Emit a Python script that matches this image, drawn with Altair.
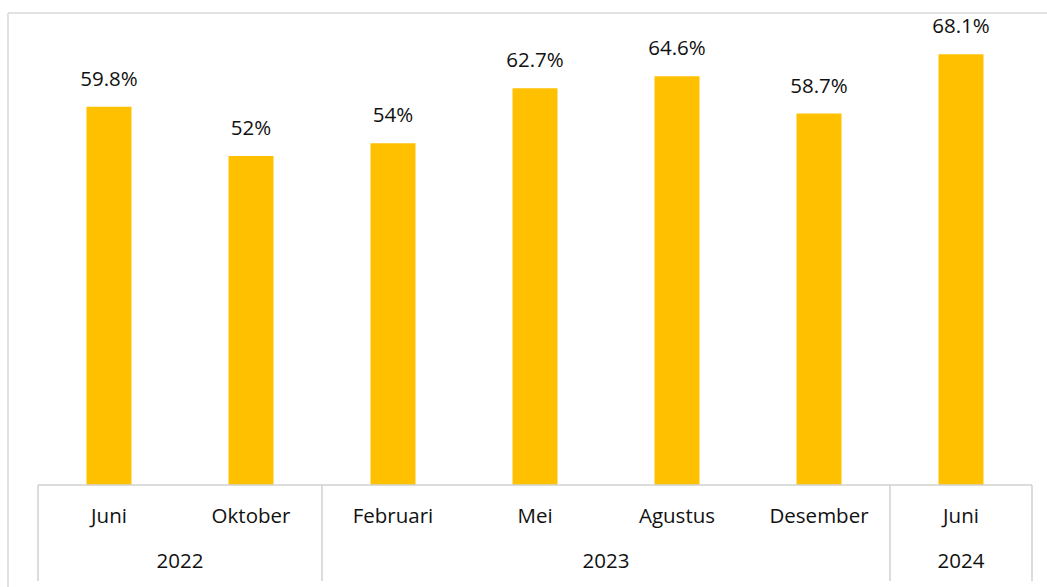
import altair as alt
import pandas as pd

months = ["Juni", "Oktober", "Februari", "Mei", "Agustus", "Desember", "Juni"]
years = ["2022", "2022", "2023", "2023", "2023", "2023", "2024"]
values = [59.8, 52.0, 54.0, 62.7, 64.6, 58.7, 68.1]
value_labels = ["59.8%", "52%", "54%", "62.7%", "64.6%", "58.7%", "68.1%"]

idx = list(range(len(months)))
bars = pd.DataFrame({"i": idx, "month": months, "year": years, "v": values, "lab": value_labels})

year_names = ["2022", "2023", "2024"]
year_pos = []
for y in year_names:
    ii = [i for i, yy in enumerate(years) if yy == y]
    year_pos.append(sum(ii) / len(ii))
year_df = pd.DataFrame({"year": year_names, "pos": year_pos})

# group boundaries
bounds = [-0.5]
for i in range(1, len(years)):
    if years[i] != years[i - 1]:
        bounds.append(i - 0.5)
bounds.append(len(years) - 0.5)
bound_df = pd.DataFrame({"b": bounds})

W, H = 994, 472
FONT = "Open Sans"
FS = 20.5
xs = alt.Scale(domain=[-0.5, len(months) - 0.5], nice=False, zero=False, padding=0)
ys = alt.Scale(domain=[0, 74.6], nice=False, padding=0)
X = lambda f: alt.X(f, type="quantitative", scale=xs, axis=None)

base = alt.Chart(bars)

bar_layer = base.mark_bar(color="#FFC000", size=45).encode(
    x=X("i"), y=alt.Y("v:Q", scale=ys, axis=None)
)
lab_layer = base.mark_text(font=FONT, fontSize=FS, color="#111111", baseline="alphabetic", dy=-21).encode(
    x=X("i"), y=alt.Y("v:Q", scale=ys), text="lab:N"
)
month_layer = base.mark_text(font=FONT, fontSize=FS, color="#111111", baseline="alphabetic").encode(
    x=X("i"), y=alt.value(H + 38), text="month:N"
)
year_layer = alt.Chart(year_df).mark_text(font=FONT, fontSize=FS, color="#111111", baseline="alphabetic").encode(
    x=X("pos"), y=alt.value(H + 83), text="year:N"
)
axis_line = alt.Chart(pd.DataFrame({"a": [bounds[0]], "b": [bounds[-1]], "z": [0]})).mark_rule(
    color="#d0d0d0", strokeWidth=1.5
).encode(x=X("a"), x2="b", y=alt.Y("z:Q", scale=ys))
seps = alt.Chart(bound_df).mark_rule(color="#d0d0d0", strokeWidth=1.5).encode(
    x=X("b"), y=alt.value(H), y2=alt.value(H + 96)
)
frame = pd.DataFrame({"k": [0]})
border_left = alt.Chart(frame).mark_rule(color="#d9d9d9", strokeWidth=1.5).encode(
    x=alt.value(-30), y=alt.value(0), y2=alt.value(H + 102)
)
border_top = alt.Chart(frame).mark_rule(color="#d9d9d9", strokeWidth=1.5).encode(
    x=alt.value(-30), x2=alt.value(W + 20), y=alt.value(0)
)

chart = alt.layer(
    border_left, border_top, bar_layer, lab_layer, axis_line, seps, month_layer, year_layer
).properties(
    width=W, height=H,
    autosize=alt.AutoSizeParams(type="none"),
    padding={"left": 38, "top": 13, "right": 15, "bottom": 102},
    background="white",
).configure_view(stroke=None)

chart.save("out.html", embed_options={"renderer": "svg", "actions": False})
